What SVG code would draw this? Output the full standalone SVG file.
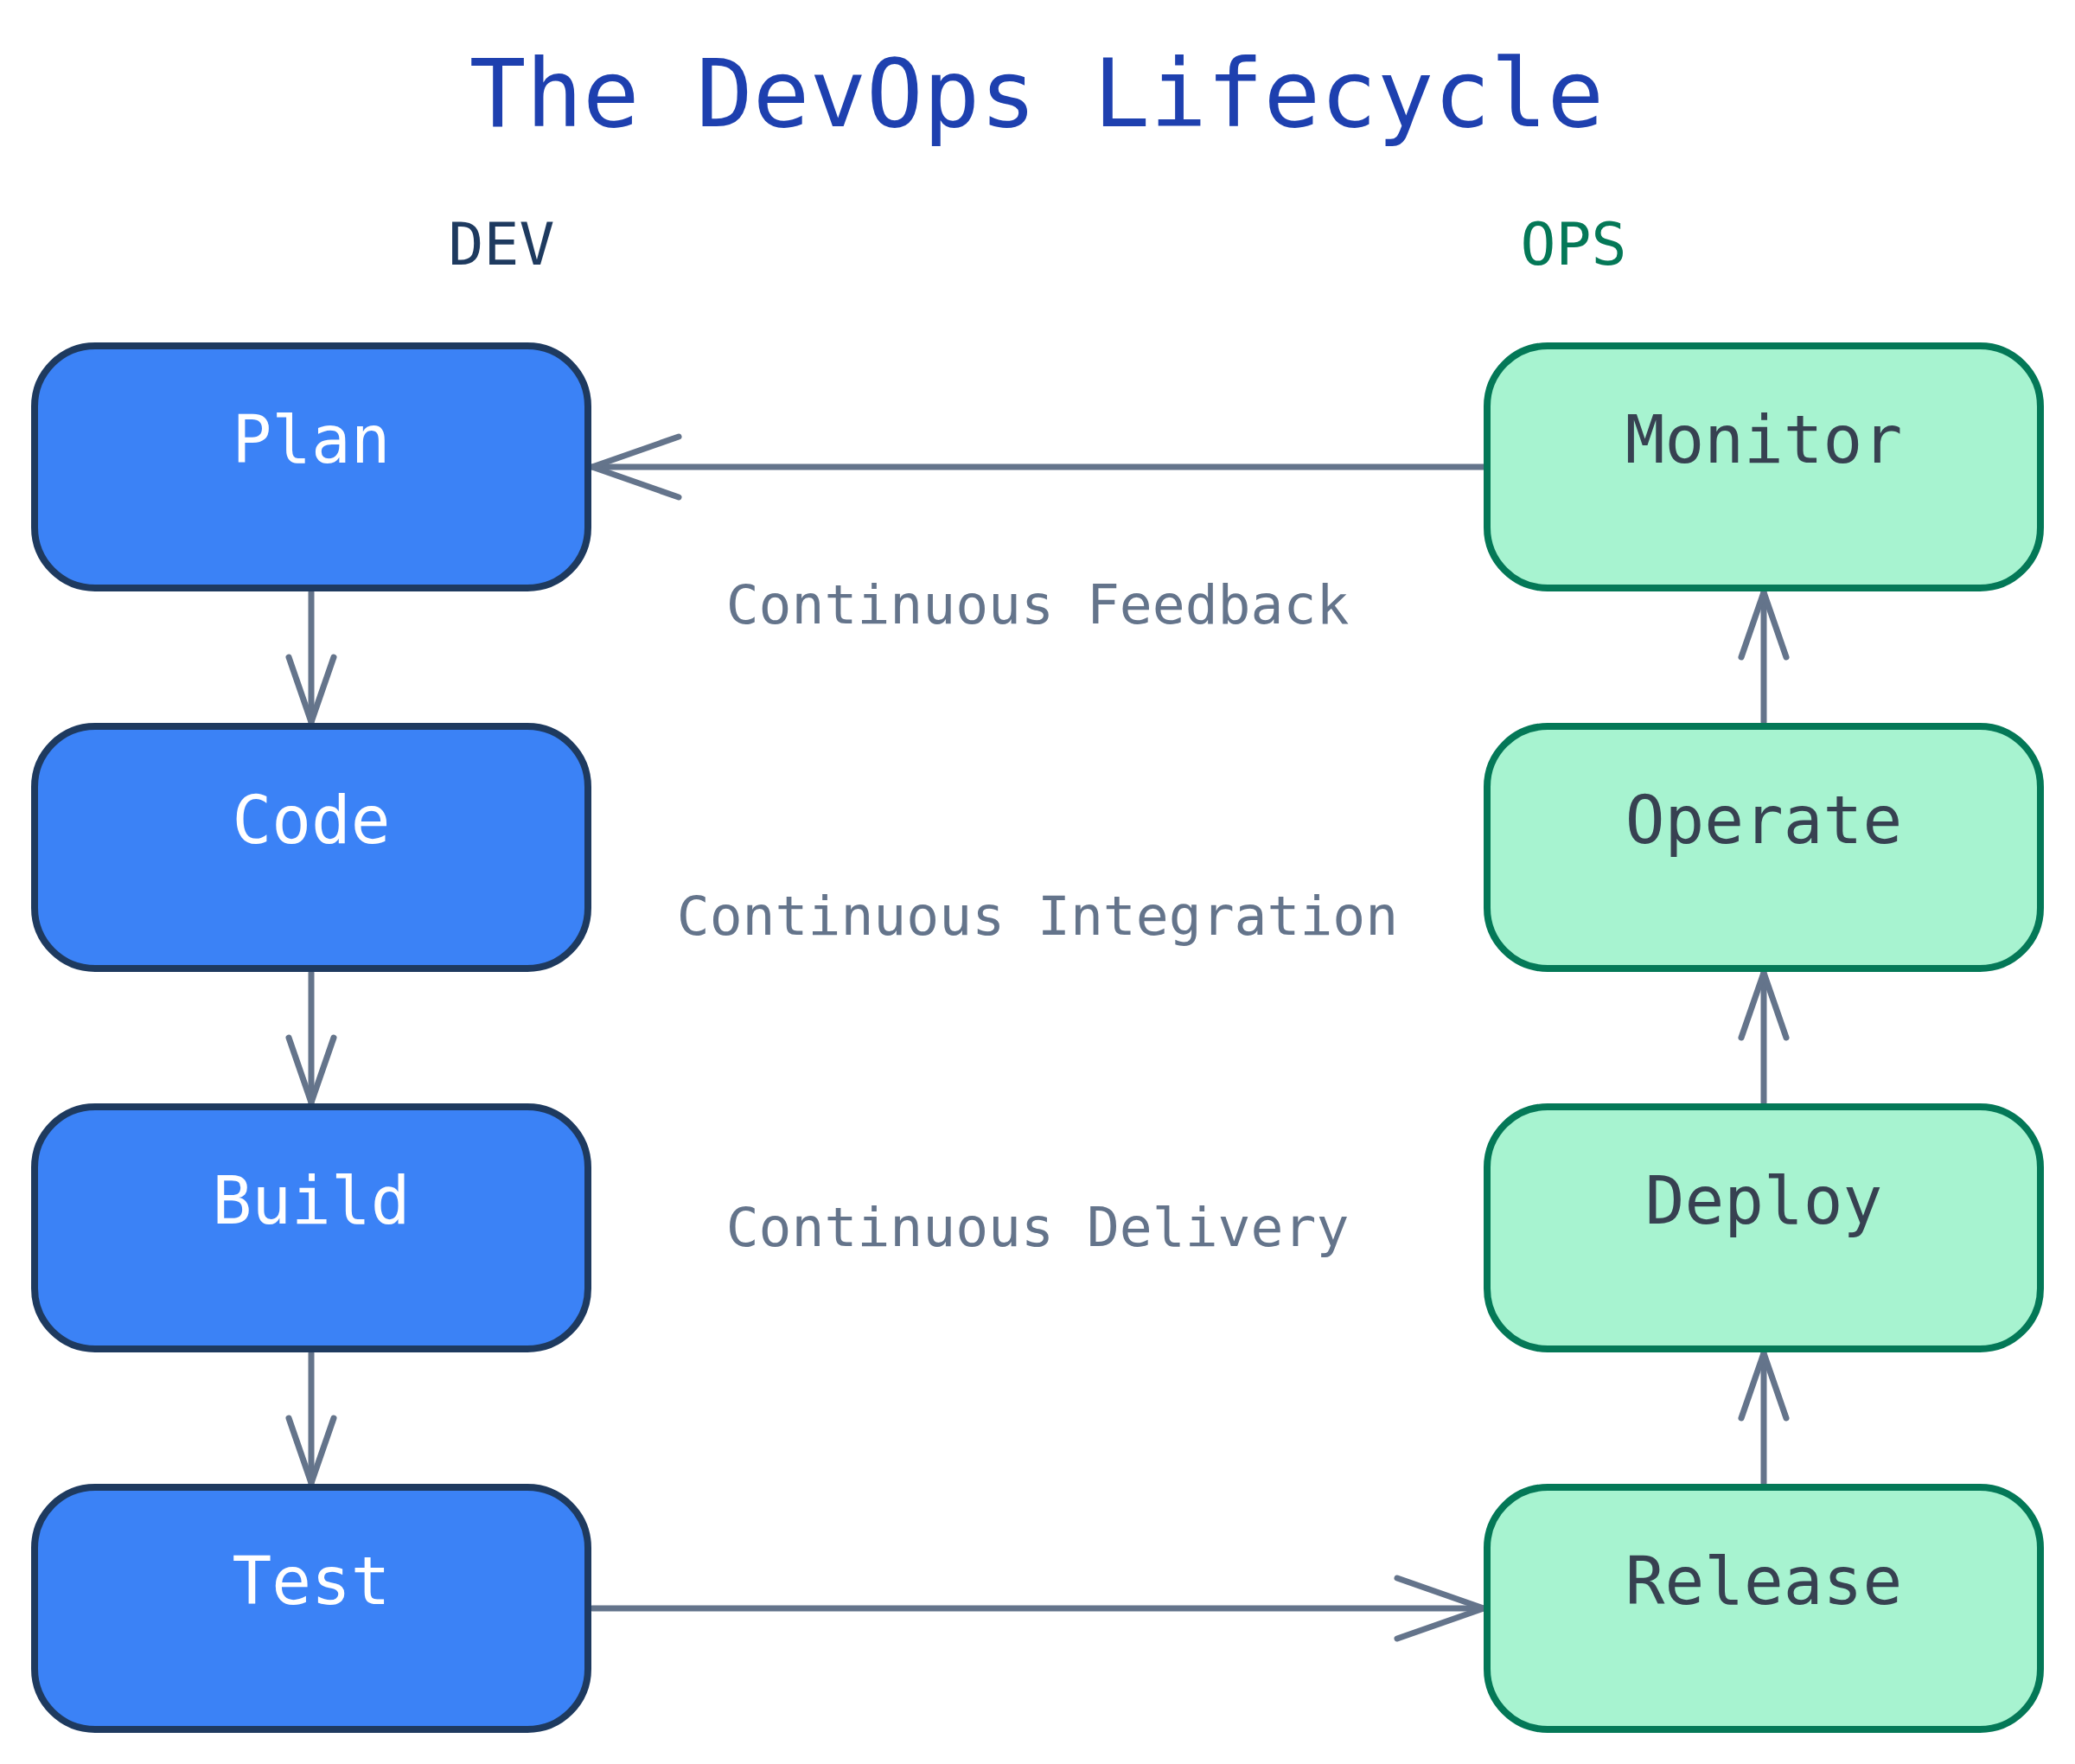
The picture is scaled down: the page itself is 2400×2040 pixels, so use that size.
<svg xmlns="http://www.w3.org/2000/svg" width="2400" height="2040" viewBox="0 0 2400 2040">
  <style>
    text { font-family: "DejaVu Sans Mono", "Liberation Mono", monospace; }
    .title { font-size: 109px; fill: #1e40af; }
    .lane { font-size: 68px; text-anchor: middle; }
    .dev-lane { fill: #1e3a5f; }
    .ops-lane { fill: #047857; }
    .dev rect { fill: #3b82f6; stroke: #1e3a5f; stroke-width: 8; }
    .ops rect { fill: #a7f3d0; stroke: #047857; stroke-width: 8; }
    .dev text { fill: #ffffff; font-size: 76px; text-anchor: middle; }
    .ops text { fill: #374151; font-size: 76px; text-anchor: middle; }
    .phase { font-size: 63px; fill: #64748b; text-anchor: middle; }
    .edge { stroke: #64748b; stroke-width: 7; fill: none; stroke-linecap: round; stroke-linejoin: round; }
  </style>
  <defs>
    <marker id="arrow-lg" markerUnits="userSpaceOnUse" markerWidth="120" markerHeight="90" viewBox="-110 -45 120 90" refX="0" refY="0" orient="auto" overflow="visible">
      <path d="M -100 -35 L 0 0 L -100 35" fill="none" stroke="#64748b" stroke-width="7" stroke-linecap="round" stroke-linejoin="round"/>
    </marker>
    <marker id="arrow-sm" markerUnits="userSpaceOnUse" markerWidth="90" markerHeight="70" viewBox="-85 -35 90 70" refX="0" refY="0" orient="auto" overflow="visible">
      <path d="M -75 -26 L 0 0 L -75 26" fill="none" stroke="#64748b" stroke-width="7" stroke-linecap="round" stroke-linejoin="round"/>
    </marker>
  </defs>

  <rect x="0" y="0" width="2400" height="2040" fill="#ffffff"/>

  <text class="title" x="1199" y="146" text-anchor="middle">The DevOps Lifecycle</text>
  <text class="lane dev-lane" x="580" y="306">DEV</text>
  <text class="lane ops-lane" x="1820" y="306">OPS</text>

  <g id="connectors">
    <line class="edge" x1="1716" y1="540" x2="685" y2="540" marker-end="url(#arrow-lg)"/>
    <line class="edge" x1="685" y1="1860" x2="1716" y2="1860" marker-end="url(#arrow-lg)"/>
    <line class="edge" x1="360" y1="685" x2="360" y2="835" marker-end="url(#arrow-sm)"/>
    <line class="edge" x1="360" y1="1125" x2="360" y2="1275" marker-end="url(#arrow-sm)"/>
    <line class="edge" x1="360" y1="1565" x2="360" y2="1715" marker-end="url(#arrow-sm)"/>
    <line class="edge" x1="2040" y1="1715" x2="2040" y2="1565" marker-end="url(#arrow-sm)"/>
    <line class="edge" x1="2040" y1="1275" x2="2040" y2="1125" marker-end="url(#arrow-sm)"/>
    <line class="edge" x1="2040" y1="835" x2="2040" y2="685" marker-end="url(#arrow-sm)"/>
  </g>

  <g id="labels">
    <text class="phase" x="1200" y="721">Continuous Feedback</text>
    <text class="phase" x="1200" y="1081">Continuous Integration</text>
    <text class="phase" x="1200" y="1441">Continuous Delivery</text>
  </g>

  <g id="plan" class="dev">
    <rect x="40" y="400" width="640" height="280" rx="70" ry="70"/>
    <text x="360" y="535">Plan</text>
  </g>
  <g id="code" class="dev">
    <rect x="40" y="840" width="640" height="280" rx="70" ry="70"/>
    <text x="360" y="975">Code</text>
  </g>
  <g id="build" class="dev">
    <rect x="40" y="1280" width="640" height="280" rx="70" ry="70"/>
    <text x="360" y="1415">Build</text>
  </g>
  <g id="test" class="dev">
    <rect x="40" y="1720" width="640" height="280" rx="70" ry="70"/>
    <text x="360" y="1855">Test</text>
  </g>

  <g id="monitor" class="ops">
    <rect x="1720" y="400" width="640" height="280" rx="70" ry="70"/>
    <text x="2040" y="535">Monitor</text>
  </g>
  <g id="operate" class="ops">
    <rect x="1720" y="840" width="640" height="280" rx="70" ry="70"/>
    <text x="2040" y="975">Operate</text>
  </g>
  <g id="deploy" class="ops">
    <rect x="1720" y="1280" width="640" height="280" rx="70" ry="70"/>
    <text x="2040" y="1415">Deploy</text>
  </g>
  <g id="release" class="ops">
    <rect x="1720" y="1720" width="640" height="280" rx="70" ry="70"/>
    <text x="2040" y="1855">Release</text>
  </g>
</svg>
